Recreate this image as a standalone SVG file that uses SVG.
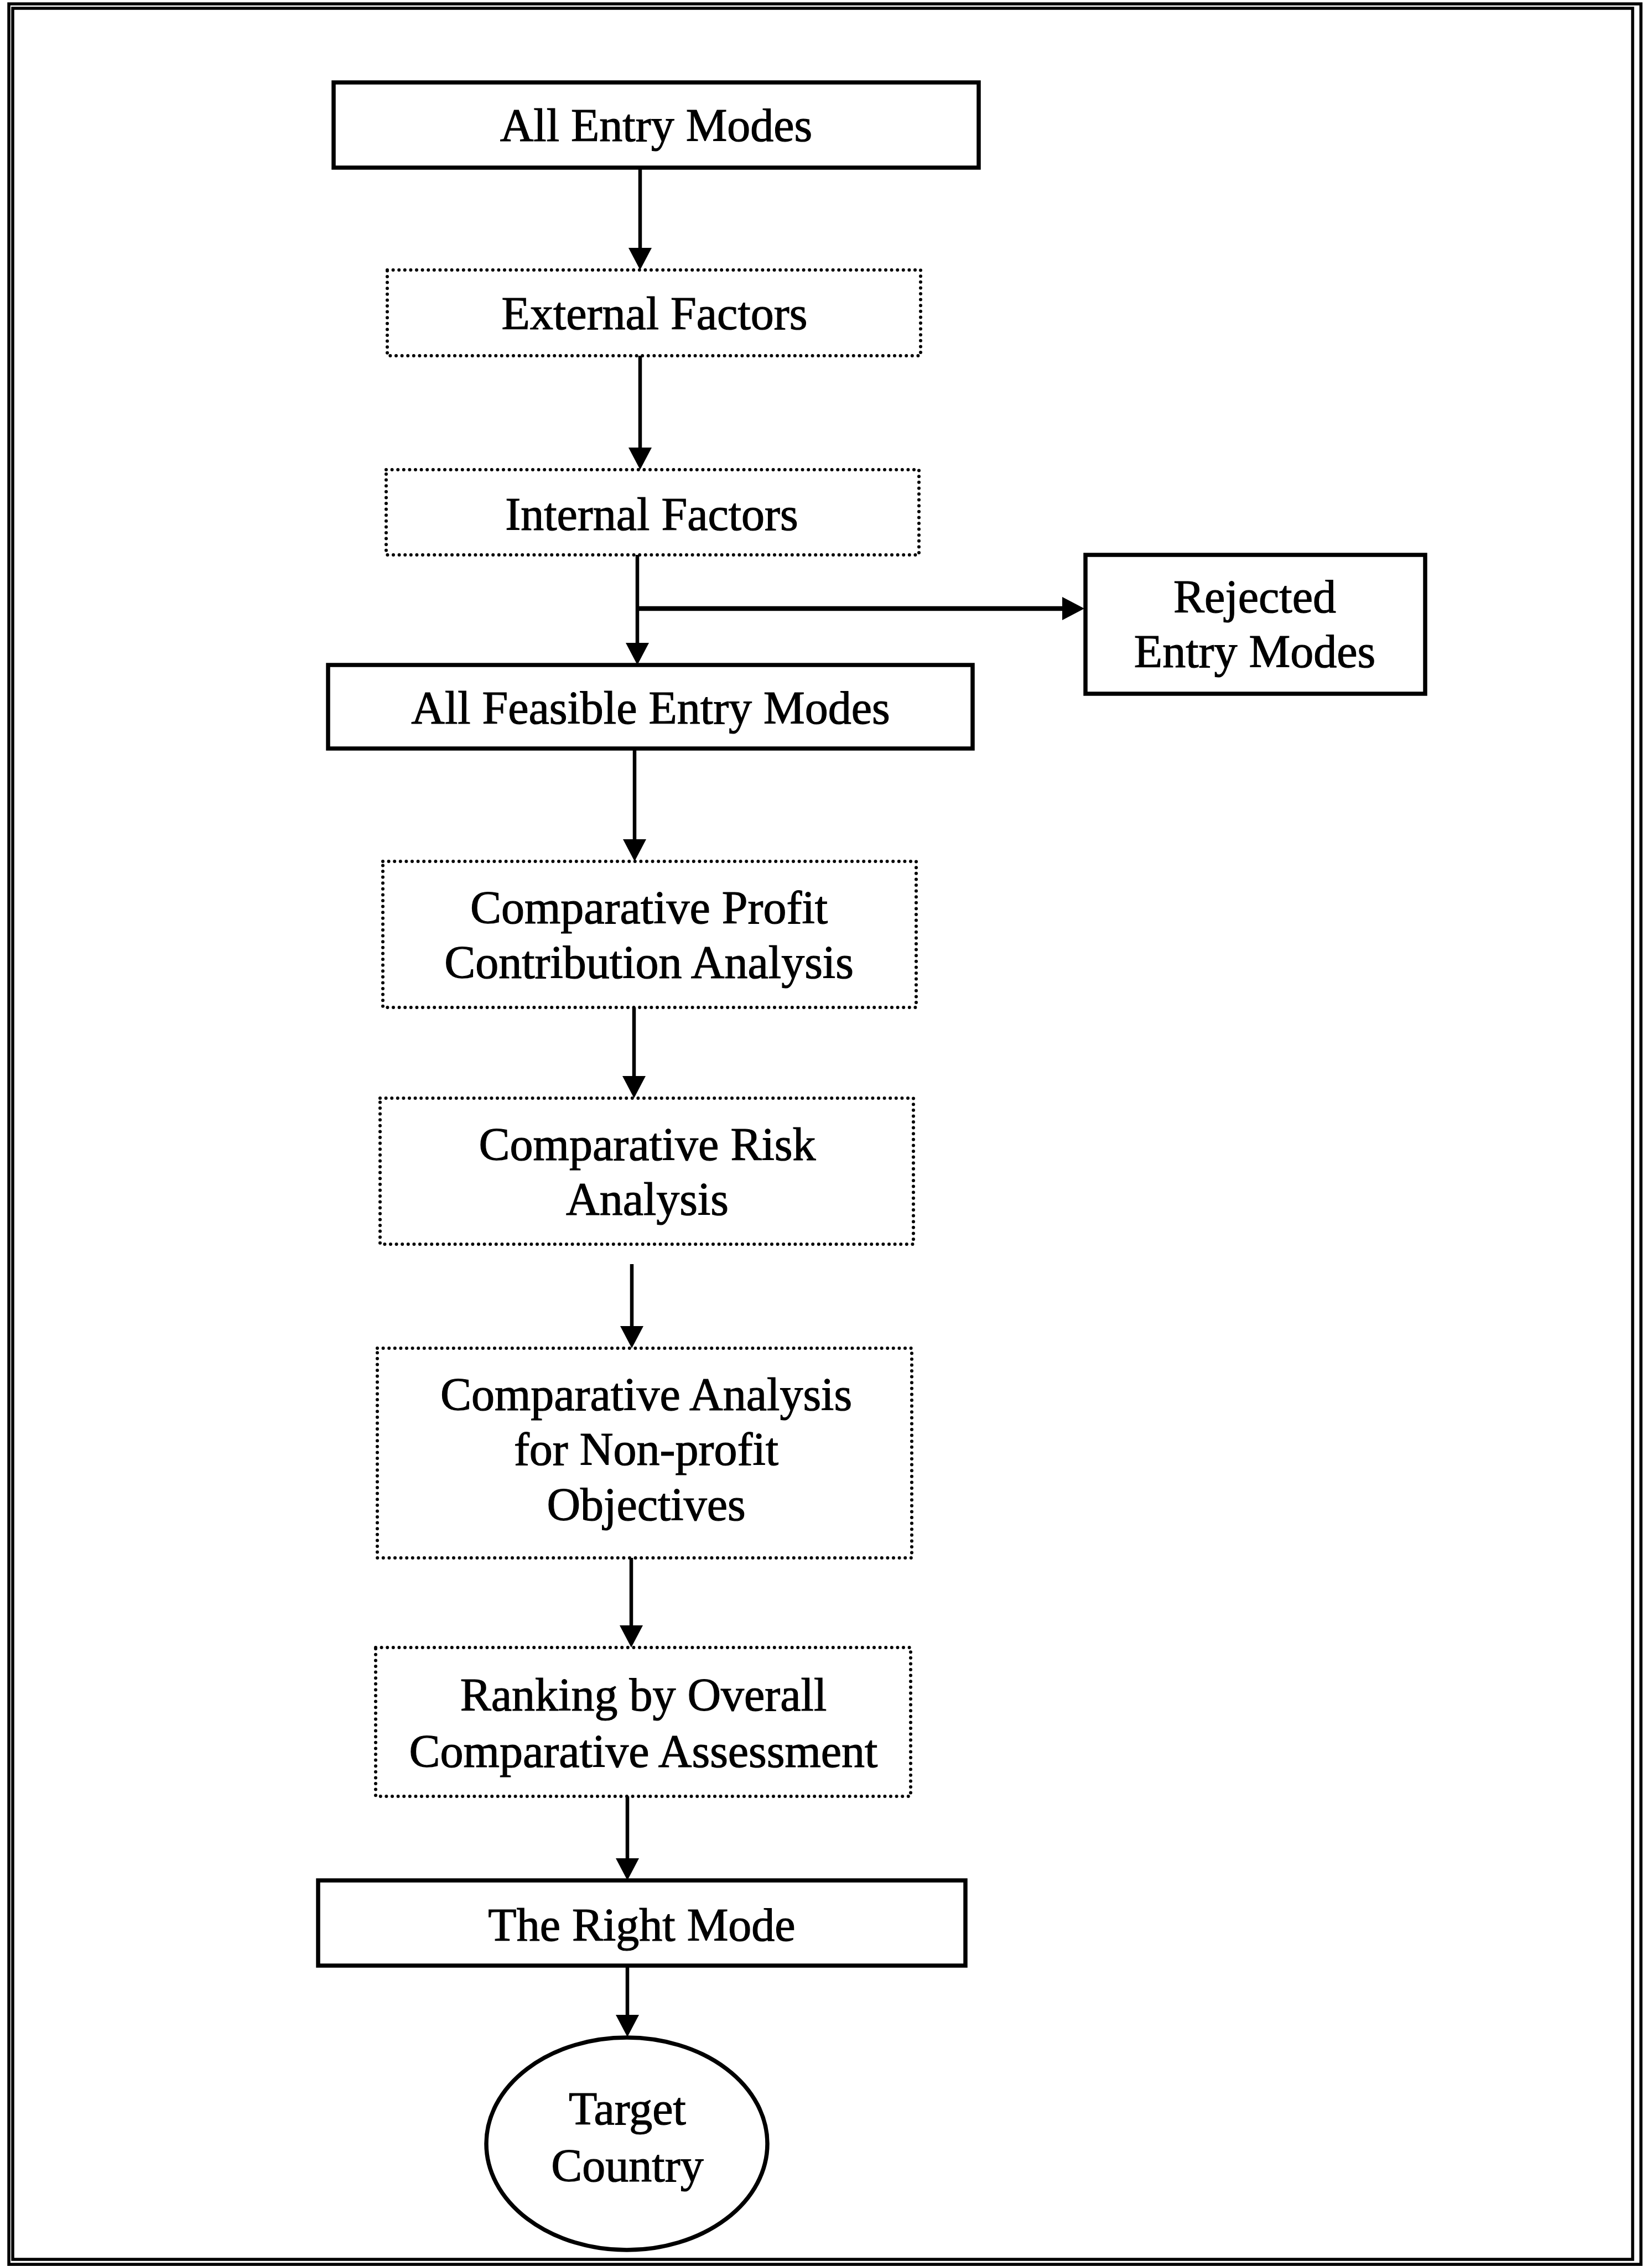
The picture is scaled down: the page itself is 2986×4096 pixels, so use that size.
<svg xmlns="http://www.w3.org/2000/svg" width="2986" height="4096" viewBox="0 0 2986 4096">
<style>
  .solid { fill: #ffffff; stroke: #000000; stroke-width: 7.5; }
  .dotted { fill: #ffffff; stroke: #000000; stroke-width: 6; stroke-dasharray: 0 10.6; stroke-linecap: round; }
  .lbl { font-family: "Liberation Serif", "Times New Roman", serif; font-size: 84px; fill: #000000; stroke: #000000; stroke-width: 1.2; text-anchor: middle; }
  .conn { stroke: #000000; stroke-width: 6.5; fill: none; }
  .frame { fill: none; stroke: #000000; stroke-width: 5.5; }
</style>
<defs>
  <marker id="arrow" markerUnits="userSpaceOnUse" markerWidth="40" markerHeight="42" refX="10" refY="21" orient="auto">
    <path d="M0,0 L40,21 L0,42 Z" fill="#000000"/>
  </marker>
</defs>
<rect width="2986" height="4096" fill="#ffffff"/>
<g id="frame">
  <rect class="frame" x="16" y="7" width="2950" height="4086"/>
  <rect class="frame" x="23" y="15" width="2928" height="4069"/>
</g>
<g id="connectors">
  <line class="conn" x1="1157" y1="303" x2="1157" y2="458" marker-end="url(#arrow)"/>
  <line class="conn" x1="1157" y1="643" x2="1157" y2="819" marker-end="url(#arrow)"/>
  <line class="conn" x1="1152" y1="1003" x2="1152" y2="1172" marker-end="url(#arrow)"/>
  <line class="conn" x1="1152" y1="1100" x2="1930" y2="1100" marker-end="url(#arrow)" style="stroke-width:8.5"/>
  <line class="conn" x1="1147" y1="1353" x2="1147" y2="1527" marker-end="url(#arrow)"/>
  <line class="conn" x1="1146" y1="1821" x2="1146" y2="1955" marker-end="url(#arrow)"/>
  <line class="conn" x1="1142" y1="2285" x2="1142" y2="2407" marker-end="url(#arrow)"/>
  <line class="conn" x1="1141" y1="2816" x2="1141" y2="2948" marker-end="url(#arrow)"/>
  <line class="conn" x1="1134" y1="3247" x2="1134" y2="3369" marker-end="url(#arrow)"/>
  <line class="conn" x1="1134" y1="3553" x2="1134" y2="3652" marker-end="url(#arrow)"/>
</g>
<g id="node-all-entry-modes">
  <rect class="solid" x="603" y="149" width="1166" height="154"/>
  <text class="lbl" x="1186" y="255">All Entry Modes</text>
</g>
<g id="node-external-factors">
  <rect class="dotted" x="700" y="488" width="964" height="155"/>
  <text class="lbl" x="1183" y="595">External Factors</text>
</g>
<g id="node-internal-factors">
  <rect class="dotted" x="698" y="849" width="963" height="154"/>
  <text class="lbl" x="1178" y="958">Internal Factors</text>
</g>
<g id="node-rejected-entry-modes">
  <rect class="solid" x="1962" y="1003" width="614" height="251"/>
  <text class="lbl" x="2268" y="1107">Rejected</text>
  <text class="lbl" x="2268" y="1206">Entry Modes</text>
</g>
<g id="node-all-feasible-entry-modes">
  <rect class="solid" x="593" y="1202" width="1165" height="151"/>
  <text class="lbl" x="1176" y="1308">All Feasible Entry Modes</text>
</g>
<g id="node-profit-analysis">
  <rect class="dotted" x="692" y="1557" width="964" height="264"/>
  <text class="lbl" x="1173" y="1669">Comparative Profit</text>
  <text class="lbl" x="1173" y="1768">Contribution Analysis</text>
</g>
<g id="node-risk-analysis">
  <rect class="dotted" x="687" y="1985" width="964" height="264"/>
  <text class="lbl" x="1170" y="2097">Comparative Risk</text>
  <text class="lbl" x="1170" y="2196">Analysis</text>
</g>
<g id="node-nonprofit-analysis">
  <rect class="dotted" x="682" y="2437" width="966" height="379"/>
  <text class="lbl" x="1168" y="2549">Comparative Analysis</text>
  <text class="lbl" x="1168" y="2648">for Non-profit</text>
  <text class="lbl" x="1168" y="2748">Objectives</text>
</g>
<g id="node-ranking">
  <rect class="dotted" x="679" y="2978" width="967" height="269"/>
  <text class="lbl" x="1163" y="3092">Ranking by Overall</text>
  <text class="lbl" x="1163" y="3194">Comparative Assessment</text>
</g>
<g id="node-right-mode">
  <rect class="solid" x="575" y="3399" width="1170" height="154"/>
  <text class="lbl" x="1160" y="3508">The Right Mode</text>
</g>
<g id="node-target-country">
  <ellipse class="solid" cx="1133" cy="3875" rx="254" ry="192"/>
  <text class="lbl" x="1134" y="3840">Target</text>
  <text class="lbl" x="1134" y="3943">Country</text>
</g>
</svg>
